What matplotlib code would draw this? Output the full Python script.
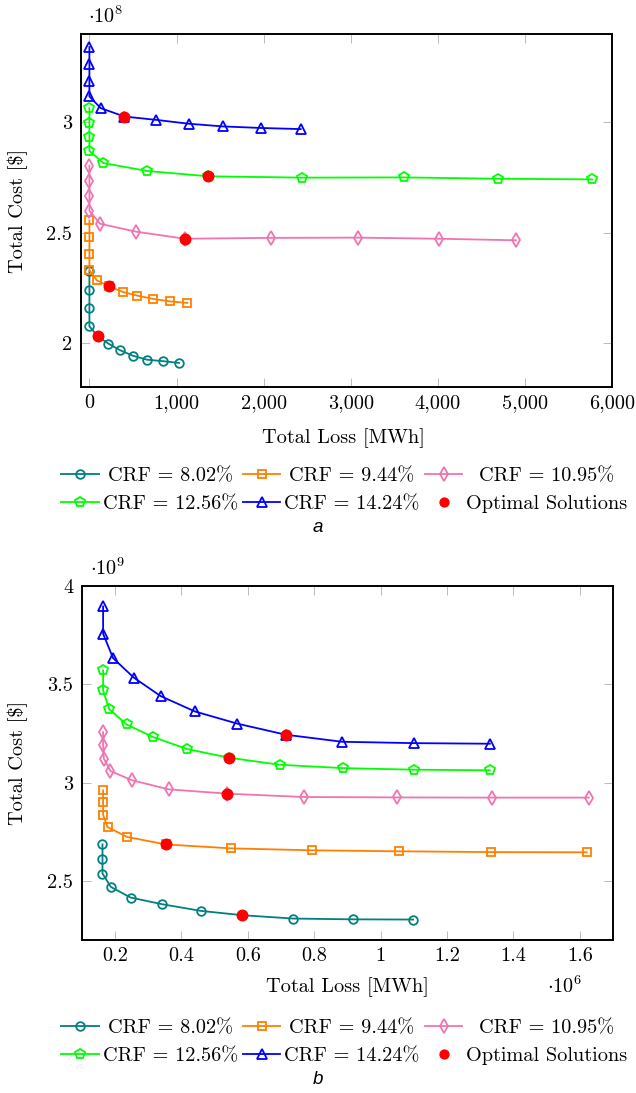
import matplotlib
matplotlib.use('Agg')
import matplotlib.pyplot as plt
from matplotlib.lines import Line2D
from matplotlib.ticker import FuncFormatter, FixedLocator

plt.rcParams['font.family'] = 'cmr10'
plt.rcParams['mathtext.fontset'] = 'cm'
plt.rcParams['axes.unicode_minus'] = False
plt.rcParams['axes.formatter.use_mathtext'] = True

W, H = 636, 1093
FS = 14.6

# ---------------- data ----------------
labels = ['CRF = 8.02%', 'CRF = 9.44%', 'CRF = 10.95%', 'CRF = 12.56%', 'CRF = 14.24%']
opt_label = 'Optimal Solutions'
colors = ['#008080', '#ff8000', '#f074b0', '#00ff00', '#0000ff']
markers = ['o', 's', 'd', 'p', '^']
msizes = [6.2, 6.0, 7.0, 7.0, 6.8]

# Panel a: Total Loss [MWh], Total Cost [$]
a_loss_802 = [0, 0, 0, 0, 95, 217, 351, 497, 658, 848, 1029]
a_cost_802 = [2.324e8, 2.238e8, 2.157e8, 2.075e8, 2.030e8, 1.997e8, 1.967e8, 1.942e8, 1.924e8, 1.917e8, 1.909e8]
a_loss_944 = [0, 0, 0, 0, 84, 225, 382, 550, 734, 925, 1124]
a_cost_944 = [2.555e8, 2.480e8, 2.404e8, 2.329e8, 2.284e8, 2.256e8, 2.231e8, 2.214e8, 2.199e8, 2.188e8, 2.181e8]
a_loss_1095 = [0, 0, 0, 0, 122, 535, 1098, 2085, 3087, 4017, 4898]
a_cost_1095 = [2.803e8, 2.732e8, 2.667e8, 2.599e8, 2.540e8, 2.504e8, 2.472e8, 2.476e8, 2.477e8, 2.472e8, 2.465e8]
a_loss_1256 = [0, 0, 0, 0, 160, 665, 1365, 2444, 3615, 4688, 5774]
a_cost_1256 = [3.064e8, 2.996e8, 2.933e8, 2.870e8, 2.815e8, 2.779e8, 2.755e8, 2.749e8, 2.750e8, 2.744e8, 2.741e8]
a_loss_1424 = [0, 0, 0, 0, 130, 401, 761, 1147, 1537, 1974, 2426]
a_cost_1424 = [3.341e8, 3.265e8, 3.189e8, 3.117e8, 3.064e8, 3.026e8, 3.011e8, 2.993e8, 2.981e8, 2.974e8, 2.969e8]
a_opt_loss = [95, 225, 1098, 1365, 401]
a_opt_cost = [2.030e8, 2.256e8, 2.472e8, 2.755e8, 3.026e8]

# Panel b
b_loss_802 = [0.1626e6, 0.1626e6, 0.1626e6, 0.1877e6, 0.247e6, 0.342e6, 0.459e6, 0.584e6, 0.737e6, 0.917e6, 1.098e6]
b_cost_802 = [2.686e9, 2.612e9, 2.538e9, 2.470e9, 2.416e9, 2.382e9, 2.348e9, 2.326e9, 2.309e9, 2.305e9, 2.304e9]
b_loss_944 = [0.1645e6, 0.1645e6, 0.1645e6, 0.1777e6, 0.237e6, 0.353e6, 0.549e6, 0.794e6, 1.057e6, 1.333e6, 1.621e6]
b_cost_944 = [2.961e9, 2.901e9, 2.837e9, 2.774e9, 2.724e9, 2.686e9, 2.666e9, 2.656e9, 2.651e9, 2.647e9, 2.646e9]
b_loss_1095 = [0.1645e6, 0.1645e6, 0.1666e6, 0.1867e6, 0.252e6, 0.362e6, 0.539e6, 0.770e6, 1.051e6, 1.337e6, 1.627e6]
b_cost_1095 = [3.257e9, 3.190e9, 3.122e9, 3.059e9, 3.012e9, 2.966e9, 2.944e9, 2.927e9, 2.925e9, 2.924e9, 2.924e9]
b_loss_1256 = [0.1645e6, 0.1645e6, 0.1826e6, 0.235e6, 0.315e6, 0.4175e6, 0.543e6, 0.697e6, 0.887e6, 1.102e6, 1.329e6]
b_cost_1256 = [3.571e9, 3.469e9, 3.374e9, 3.296e9, 3.232e9, 3.171e9, 3.127e9, 3.091e9, 3.074e9, 3.066e9, 3.063e9]
b_loss_1424 = [0.1645e6, 0.1645e6, 0.1946e6, 0.257e6, 0.338e6, 0.441e6, 0.569e6, 0.714e6, 0.884e6, 1.100e6, 1.329e6]
b_cost_1424 = [3.896e9, 3.757e9, 3.633e9, 3.534e9, 3.440e9, 3.362e9, 3.300e9, 3.244e9, 3.208e9, 3.201e9, 3.198e9]
b_opt_loss = [0.584e6, 0.353e6, 0.539e6, 0.543e6, 0.714e6]
b_opt_cost = [2.326e9, 2.686e9, 2.944e9, 3.127e9, 3.244e9]

a_xticks = [0, 1000, 2000, 3000, 4000, 5000, 6000]
a_yticks = [2.0e8, 2.5e8, 3.0e8]
b_xticks = [0.2e6, 0.4e6, 0.6e6, 0.8e6, 1.0e6, 1.2e6, 1.4e6, 1.6e6]
b_yticks = [2.5e9, 3.0e9, 3.5e9, 4.0e9]

# ---------------- figure ----------------
fig = plt.figure(figsize=(W / 100, H / 100), dpi=100)


def fx(x):
    return x / W


def fy(y):
    return 1 - y / H


def make_axes(l, t, r, b):
    return fig.add_axes([fx(l), fy(b), fx(r) - fx(l), fy(t) - fy(b)])


def style(ax):
    for s in ax.spines.values():
        s.set_linewidth(1.4)
        s.set_color('black')
    ax.tick_params(direction='in', length=6.2, width=0.6, color='#b0b0b0',
                   top=True, right=True, labelsize=FS, pad=5)
    ax.tick_params(axis='y', pad=6)


OPT_MS = 7.6


def draw_series(ax, xs, ys, ox, oy):
    for x, y, c, m, s in zip(xs, ys, colors, markers, msizes):
        ax.plot(x, y, color=c, lw=1.3, marker=m, ms=s,
                mfc='none', mec=c, mew=1.3, zorder=3)
    ax.plot(ox, oy, ls='none', marker='o', ms=OPT_MS, mfc='red', mec='red', zorder=5)


# Panel a
axa = make_axes(80.7, 34, 612, 387)
draw_series(axa,
            [a_loss_802, a_loss_944, a_loss_1095, a_loss_1256, a_loss_1424],
            [a_cost_802, a_cost_944, a_cost_1095, a_cost_1256, a_cost_1424],
            a_opt_loss, a_opt_cost)
axa.set_xlim(-100, 6000)
axa.set_ylim(1.8e8, 3.4e8)
axa.xaxis.set_major_locator(FixedLocator(a_xticks))
axa.yaxis.set_major_locator(FixedLocator(a_yticks))
axa.xaxis.set_major_formatter(FuncFormatter(lambda v, p: '{:,}'.format(int(round(v)))))
axa.yaxis.set_major_formatter(FuncFormatter(lambda v, p: '%g' % round(v / 1e8, 3)))
style(axa)

# Panel b
axb = make_axes(81.7, 586, 613, 940)
draw_series(axb,
            [b_loss_802, b_loss_944, b_loss_1095, b_loss_1256, b_loss_1424],
            [b_cost_802, b_cost_944, b_cost_1095, b_cost_1256, b_cost_1424],
            b_opt_loss, b_opt_cost)
axb.set_xlim(0.1e6, 1.7e6)
axb.set_ylim(2.2e9, 4.0e9)
axb.xaxis.set_major_locator(FixedLocator(b_xticks))
axb.yaxis.set_major_locator(FixedLocator(b_yticks))
axb.xaxis.set_major_formatter(FuncFormatter(lambda v, p: '%g' % round(v / 1e6, 3)))
axb.yaxis.set_major_formatter(FuncFormatter(lambda v, p: '%g' % round(v / 1e9, 3)))
style(axb)

# axis labels and multipliers
for (xc, yc) in [(343, 438), (347, 987)]:
    fig.text(fx(xc), fy(yc), 'Total Loss [MWh]', ha='center', va='center', fontsize=FS)
for yc in [210.5, 763]:
    fig.text(fx(18), fy(yc), 'Total Cost [$]', ha='center', va='center', rotation=90, fontsize=FS)
fig.text(fx(106), fy(16), r'$\cdot 10^{8}$', ha='center', va='center', fontsize=FS)
fig.text(fx(108), fy(568), r'$\cdot 10^{9}$', ha='center', va='center', fontsize=FS)
fig.text(fx(565), fy(986), r'$\cdot 10^{6}$', ha='center', va='center', fontsize=FS)

# legends (manual, pgfplots-like: text centred in column)
line_x = [(61, 99), (243, 280), (425, 462)]
text_cx = [171, 352, 547]


def legend(row_ys):
    entries = list(zip(labels, colors, markers, msizes)) + [(opt_label, 'red', None, 6.4)]
    for i, (lab, c, m, s) in enumerate(entries):
        r, col = divmod(i, 3)
        y = fy(row_ys[r])
        x1, x2 = line_x[col]
        if m is not None:
            fig.add_artist(Line2D([fx(x1), fx(x2)], [y, y], color=c, lw=1.3,
                                  transform=fig.transFigure))
            fig.add_artist(Line2D([fx((x1 + x2) / 2)], [y], ls='none', marker=m, ms=s,
                                  mfc='none', mec=c, mew=1.3, transform=fig.transFigure))
        else:
            fig.add_artist(Line2D([fx((x1 + x2) / 2)], [y], ls='none', marker='o', ms=s,
                                  mfc='red', mec='red', transform=fig.transFigure))
        fig.text(fx(text_cx[col]), y, lab, ha='center', va='center_baseline', fontsize=FS)


legend([474, 502])
legend([1026, 1054])

fig.text(fx(318), fy(528), 'a', ha='center', va='center', fontsize=13.5,
         family='Liberation Sans', style='italic')
fig.text(fx(318), fy(1080), 'b', ha='center', va='center', fontsize=13.5,
         family='Liberation Sans', style='italic')

fig.savefig('out.png', dpi=100)
